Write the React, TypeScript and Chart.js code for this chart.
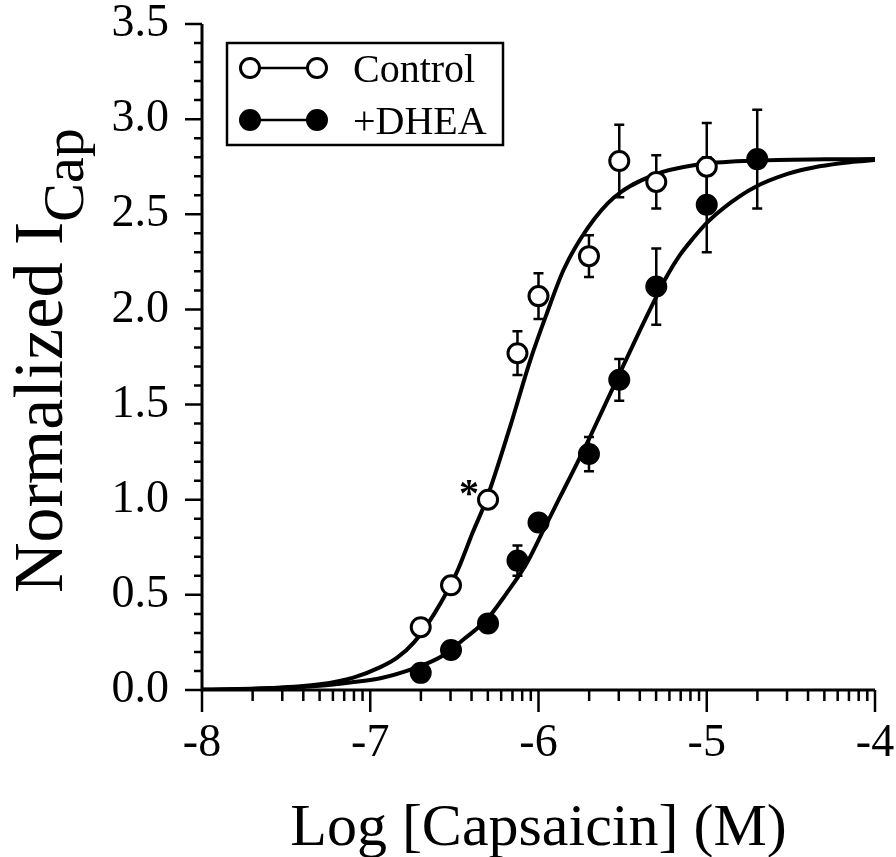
import React, { useEffect, useRef } from "react";
import { Chart, registerables } from "chart.js";

Chart.register(...registerables);

const FONT = '"Liberation Serif", "Times New Roman", "DejaVu Serif", serif';

// Axis ticks and texts
const xTickValues = [-8, -7, -6, -5, -4];
const yTickValues = [0, 0.5, 1, 1.5, 2, 2.5, 3, 3.5];
const xTitle = "Log [Capsaicin] (M)";
const yTitleMain = "Normalized I";
const yTitleSub = "Cap";
const legendLabels = ["Control", "+DHEA"];

// Control data (open circles)
const controlLogConc = [-6.7, -6.52, -6.3, -6.125, -6.0, -5.7, -5.52, -5.3, -5.0];
const controlMean = [0.33, 0.55, 1.0, 1.77, 2.07, 2.28, 2.78, 2.67, 2.75];
const controlSem = [0, 0, 0, 0.115, 0.12, 0.11, 0.19, 0.14, 0.23];

// +DHEA data (filled circles)
const dheaLogConc = [-6.7, -6.52, -6.3, -6.125, -6.0, -5.7, -5.52, -5.3, -5.0, -4.7];
const dheaMean = [0.09, 0.21, 0.35, 0.68, 0.88, 1.24, 1.63, 2.12, 2.55, 2.79];
const dheaSem = [0, 0, 0, 0.08, 0, 0.09, 0.11, 0.2, 0.25, 0.26];

// Fitted curves
const controlFitX = [-8.0, -7.6, -7.3, -7.1, -6.94, -6.84, -6.74, -6.62, -6.49, -6.39, -6.31, -6.17, -6.05, -5.95, -5.85, -5.71, -5.55, -5.32, -5.06, -4.72, -4.3, -4.0];
const controlFitY = [0.002, 0.01, 0.03, 0.065, 0.12, 0.17, 0.25, 0.4, 0.61, 0.83, 1.0, 1.38, 1.73, 1.98, 2.21, 2.425, 2.59, 2.705, 2.76, 2.782, 2.789, 2.79];
const dheaFitX = [-8.0, -7.6, -7.3, -7.1, -6.94, -6.74, -6.58, -6.45, -6.31, -6.19, -6.07, -5.97, -5.88, -5.8, -5.71, -5.62, -5.535, -5.44, -5.32, -5.24, -5.16, -5.08, -5.0, -4.86, -4.72, -4.52, -4.33, -4.15, -4.0];
const dheaFitY = [0.001, 0.008, 0.022, 0.042, 0.062, 0.114, 0.175, 0.263, 0.368, 0.508, 0.666, 0.841, 1.0, 1.14, 1.3, 1.47, 1.63, 1.81, 2.03, 2.17, 2.285, 2.375, 2.455, 2.56, 2.64, 2.712, 2.752, 2.774, 2.785];

const toPts = (xs: number[], ys: number[]) => xs.map((x, i) => ({ x, y: ys[i] }));

export default function App() {
  const ref = useRef<HTMLCanvasElement | null>(null);

  useEffect(() => {
    const canvas = ref.current;
    if (!canvas) return;

    const drawErr = (ctx: CanvasRenderingContext2D, xs: any, ys: any, cx: number[], m: number[], e: number[]) => {
      for (let i = 0; i < cx.length; i++) {
        if (!e[i]) continue;
        const px = xs.getPixelForValue(cx[i]);
        const yt = ys.getPixelForValue(m[i] + e[i]);
        const yb = ys.getPixelForValue(m[i] - e[i]);
        ctx.beginPath();
        ctx.moveTo(px, yt);
        ctx.lineTo(px, yb);
        ctx.moveTo(px - 5, yt);
        ctx.lineTo(px + 5, yt);
        ctx.moveTo(px - 5, yb);
        ctx.lineTo(px + 5, yb);
        ctx.stroke();
      }
    };

    const extras = {
      id: "extras",
      beforeDatasetsDraw(chart: any) {
        const ctx: CanvasRenderingContext2D = chart.ctx;
        const xs = chart.scales.x;
        const ys = chart.scales.y;
        const { left, right, top, bottom } = chart.chartArea;
        ctx.save();
        ctx.strokeStyle = "#000";
        ctx.lineWidth = 3;
        ctx.lineCap = "butt";
        ctx.beginPath();
        ctx.moveTo(left, top);
        ctx.lineTo(left, bottom);
        ctx.moveTo(left - 1.5, bottom);
        ctx.lineTo(right, bottom);
        ctx.stroke();
        ctx.lineWidth = 2.5;
        // y ticks
        ctx.beginPath();
        for (let i = 0; i <= 35; i++) {
          const y = ys.getPixelForValue(i / 10);
          const len = i % 5 === 0 ? 17 : 8;
          ctx.moveTo(left - len, y);
          ctx.lineTo(left, y);
        }
        // x ticks
        for (let d = -8; d <= -4; d++) {
          const x = xs.getPixelForValue(d);
          ctx.moveTo(x, bottom);
          ctx.lineTo(x, bottom + 22);
          if (d < -4) {
            for (let k = 2; k <= 9; k++) {
              const xm = xs.getPixelForValue(d + Math.log10(k));
              ctx.moveTo(xm, bottom);
              ctx.lineTo(xm, bottom + 11);
            }
          }
        }
        ctx.stroke();
        // error bars
        ctx.lineWidth = 2.5;
        drawErr(ctx, xs, ys, controlLogConc, controlMean, controlSem);
        drawErr(ctx, xs, ys, dheaLogConc, dheaMean, dheaSem);
        ctx.restore();
      },
      afterDatasetsDraw(chart: any) {
        const ctx: CanvasRenderingContext2D = chart.ctx;
        const xs = chart.scales.x;
        const ys = chart.scales.y;
        const { left, right } = chart.chartArea;
        ctx.save();
        ctx.fillStyle = "#000";
        ctx.strokeStyle = "#000";
        // asterisk next to control point at -6.3
        const ax = xs.getPixelForValue(controlLogConc[2]);
        const ay = ys.getPixelForValue(controlMean[2]);
        ctx.font = `bold 40px ${FONT}`;
        ctx.textAlign = "center";
        ctx.textBaseline = "alphabetic";
        ctx.fillText("*", ax - 19, ay + 6);

        // legend
        ctx.lineWidth = 2.5;
        ctx.fillStyle = "#fff";
        ctx.fillRect(227, 43, 276, 102);
        ctx.strokeRect(227, 43, 276, 102);
        const rows = [68, 120];
        rows.forEach((ry, r) => {
          ctx.beginPath();
          ctx.lineWidth = 2.5;
          ctx.moveTo(250, ry);
          ctx.lineTo(317, ry);
          ctx.stroke();
          [250, 317].forEach((mx) => {
            ctx.beginPath();
            ctx.arc(mx, ry, 9.5, 0, Math.PI * 2);
            ctx.fillStyle = r === 0 ? "#fff" : "#000";
            ctx.fill();
            ctx.lineWidth = 3;
            ctx.stroke();
          });
          ctx.fillStyle = "#000";
          ctx.font = `40px ${FONT}`;
          ctx.textAlign = "left";
          ctx.textBaseline = "alphabetic";
          ctx.fillText(legendLabels[r], 353, ry + 14);
        });

        // x title
        ctx.fillStyle = "#000";
        ctx.font = `60px ${FONT}`;
        ctx.textAlign = "center";
        ctx.textBaseline = "alphabetic";
        ctx.fillText(xTitle, (left + right) / 2, 845);

        // y title with subscript
        ctx.save();
        ctx.translate(62, 593);
        ctx.rotate(-Math.PI / 2);
        ctx.textAlign = "left";
        ctx.font = `70px ${FONT}`;
        ctx.fillText(yTitleMain, 0, 0);
        const w = ctx.measureText(yTitleMain).width;
        ctx.font = `58px ${FONT}`;
        ctx.fillText(yTitleSub, w, 21);
        ctx.restore();

        ctx.restore();
      },
    };

    const chart = new Chart(canvas, {
      type: "line",
      data: {
        datasets: [
          {
            label: legendLabels[0],
            data: toPts(controlLogConc, controlMean),
            showLine: false,
            pointRadius: 9.5,
            pointBorderWidth: 3,
            pointBackgroundColor: "#fff",
            pointBorderColor: "#000",
            borderColor: "#000",
          },
          {
            label: legendLabels[1],
            data: toPts(dheaLogConc, dheaMean),
            showLine: false,
            pointRadius: 9.5,
            pointBorderWidth: 3,
            pointBackgroundColor: "#000",
            pointBorderColor: "#000",
            borderColor: "#000",
          },
          {
            label: "Control fit",
            data: toPts(controlFitX, controlFitY),
            borderColor: "#000",
            borderWidth: 4,
            pointRadius: 0,
            fill: false,
            cubicInterpolationMode: "monotone",
          },
          {
            label: "+DHEA fit",
            data: toPts(dheaFitX, dheaFitY),
            borderColor: "#000",
            borderWidth: 4,
            pointRadius: 0,
            fill: false,
            cubicInterpolationMode: "monotone",
          },
        ],
      },
      options: {
        animation: false,
        responsive: false,
        maintainAspectRatio: false,
        layout: { padding: { left: 0, top: 24, right: 21, bottom: 0 } },
        plugins: { legend: { display: false }, tooltip: { enabled: false } },
        scales: {
          x: {
            type: "linear",
            min: -8,
            max: -4,
            afterFit: (s: any) => {
              s.height = 167;
              s.paddingLeft = 0;
              s.paddingRight = 0;
              s.paddingTop = 0;
              s.paddingBottom = 0;
            },
            afterBuildTicks: (s: any) => {
              s.ticks = xTickValues.map((v) => ({ value: v }));
            },
            ticks: {
              color: "#000",
              font: { family: FONT, size: 46 },
              padding: 26,
              maxRotation: 0,
              autoSkip: false,
              callback: (v: any) => String(v),
            },
            grid: { display: true, drawOnChartArea: false, drawTicks: false },
            border: { display: false },
          },
          y: {
            type: "linear",
            min: 0,
            max: 3.5,
            afterFit: (s: any) => {
              s.width = 202;
              s.paddingLeft = 0;
              s.paddingRight = 0;
              s.paddingTop = 0;
              s.paddingBottom = 0;
            },
            afterBuildTicks: (s: any) => {
              s.ticks = yTickValues.map((v) => ({ value: v }));
            },
            ticks: {
              color: "#000",
              font: { family: FONT, size: 46 },
              padding: 33,
              autoSkip: false,
              callback: (v: any) => Number(v).toFixed(1),
            },
            grid: { display: true, drawOnChartArea: false, drawTicks: false },
            border: { display: false },
          },
        },
      },
      plugins: [extras],
    } as any);

    return () => chart.destroy();
  }, []);

  return (
    <div style={{ position: "absolute", left: 0, top: 0, width: 896, height: 857, background: "#fff" }}>
      <canvas ref={ref} width={896} height={857} style={{ display: "block", width: 896, height: 857 }} />
    </div>
  );
}
